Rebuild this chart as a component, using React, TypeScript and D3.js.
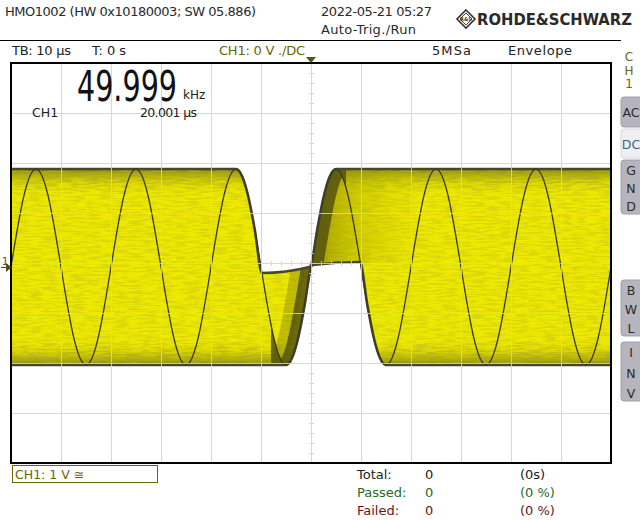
import React from 'react';
import * as d3 from 'd3';

const W = 640;
const H = 520;

// screen: 12 div x 10 µs, 8 div x 1 V
const timeRange: [number, number] = [-60, 60];
const voltRange: [number, number] = [-4, 4];
const timeGrid = [-50, -40, -30, -20, -10, 0, 10, 20, 30, 40, 50];
const voltGrid = [-3, -2, -1, 0, 1, 2, 3];

// CH1 live trace, read every 2.5 µs (V)
const traceTimes = d3.range(-60, 60.001, 2.5);
const traceVolts = [
  -0.08, 1.31, 1.88, 1.31, -0.08, -1.47, -2.04, -1.47,
  -0.08, 1.31, 1.88, 1.31, -0.08, -1.47, -2.04, -1.47,
  -0.08, 1.31, 1.88, 1.31, -0.08, -1.47, -2.04, -1.47,
  -0.08, 1.31, 1.88, 1.31, -0.08, -1.47, -2.04, -1.47,
  -0.08, 1.31, 1.88, 1.31, -0.08, -1.47, -2.04, -1.47,
  -0.08, 1.31, 1.88, 1.31, -0.08, -1.47, -2.04, -1.47,
  -0.08,
];

// envelope hull [µs, V]
const envUpper: [number, number][] = [
  [-60, 1.88], [-15, 1.88], [-13.75, 1.73], [-12.5, 1.31], [-11.25, 0.67],
  [-9.8, -0.2], [-0.3, -0.08], [0, -0.04], [1.25, 0.67], [2.5, 1.31],
  [3.75, 1.73], [5, 1.88], [60, 1.88],
];
const envLower: [number, number][] = [
  [-60, -2.04], [-5, -2.04], [-3.75, -1.89], [-2.5, -1.47], [-1.25, -0.83],
  [0, -0.08], [0.3, -0.04], [9.8, 0.02], [11.25, -0.83], [12.5, -1.47],
  [13.75, -1.89], [15, -2.04], [60, -2.04],
];

const sideButtons = [
  { label: ['A', 'C'], y0: 97, y1: 127, active: false, inline: true },
  { label: ['D', 'C'], y0: 129, y1: 158, active: true, inline: true },
  { label: ['G', 'N', 'D'], y0: 160, y1: 214, active: false, inline: false },
  { label: ['B', 'W', 'L'], y0: 280, y1: 336, active: false, inline: false },
  { label: ['I', 'N', 'V'], y0: 342, y1: 401, active: false, inline: false },
];

const stats = [
  { name: 'Total:', count: '0', extra: '(0s)', color: '#222222' },
  { name: 'Passed:', count: '0', extra: '(0 %)', color: '#1f6a1f' },
  { name: 'Failed:', count: '0', extra: '(0 %)', color: '#6a1414' },
];

const YELLOW = '#eee900';
const OLIVE = '#6b6600';
const FONT = '"DejaVu Sans", sans-serif';

const App: React.FC = () => {
  const x = d3.scaleLinear().domain(timeRange).range([11, 611]);
  const y = d3.scaleLinear().domain(voltRange).range([463, 63]);
  const [L, R] = x.range();
  const [B, T] = y.range();

  const tracePath = d3.line<number>()
    .x((_, i) => x(traceTimes[i]))
    .y(d => y(d))
    .curve(d3.curveNatural)(traceVolts) || '';

  const upperArea = d3.area<[number, number]>()
    .x(d => x(d[0])).y0(B).y1(d => y(d[1]))
    .curve(d3.curveMonotoneX);
  const lowerArea = d3.area<[number, number]>()
    .x(d => x(d[0])).y0(T).y1(d => y(d[1]))
    .curve(d3.curveMonotoneX);
  const edge = d3.line<[number, number]>()
    .x(d => x(d[0])).y(d => y(d[1]))
    .curve(d3.curveMonotoneX);

  const top = y(1.88);
  const bot = y(-2.04);
  const minorX = d3.range(-60, 60.001, 2);
  const minorY = d3.range(-4, 4.001, 0.2);

  return (
    <div style={{ position: 'fixed', left: 0, top: 0 }}>
      <svg width={W} height={H} style={{ display: 'block', background: '#fff' }} fontFamily={FONT}>
        <defs>
          <clipPath id="cu"><path d={upperArea(envUpper) || ''} /></clipPath>
          <clipPath id="cl"><path d={lowerArea(envLower) || ''} /></clipPath>
          <clipPath id="plot"><rect x={L} y={T} width={R - L} height={B - T} /></clipPath>
          <clipPath id="midUp"><rect x={x(0) - 1} y={T} width={x(7) - x(0) + 1} height={y(0) - T} /></clipPath>
          <clipPath id="midLow"><rect x={x(-8)} y={y(0)} width={x(0) - x(-8) + 1} height={B - y(0)} /></clipPath>
          <linearGradient id="topBand" x1="0" y1="0" x2="0" y2="1">
            <stop offset="0" stopColor="#4e4c14" stopOpacity={0.95} />
            <stop offset="0.25" stopColor="#7c7a06" stopOpacity={0.7} />
            <stop offset="0.6" stopColor="#aca800" stopOpacity={0.3} />
            <stop offset="1" stopColor="#c8c400" stopOpacity={0} />
          </linearGradient>
          <linearGradient id="botBand" x1="0" y1="1" x2="0" y2="0">
            <stop offset="0" stopColor="#4e4c14" stopOpacity={0.95} />
            <stop offset="0.25" stopColor="#7c7a06" stopOpacity={0.7} />
            <stop offset="0.6" stopColor="#aca800" stopOpacity={0.3} />
            <stop offset="1" stopColor="#c8c400" stopOpacity={0} />
          </linearGradient>
          <linearGradient id="midTint" x1="0" y1="0" x2="1" y2="0">
            <stop offset="0" stopColor="#7a7604" stopOpacity={0.7} />
            <stop offset="0.4" stopColor="#9a9600" stopOpacity={0.35} />
            <stop offset="1" stopColor="#b8b400" stopOpacity={0} />
          </linearGradient>
          <filter id="speckle" x="0" y="0" width="1" height="1">
            <feTurbulence type="fractalNoise" baseFrequency="0.07 0.55" numOctaves={2} seed={7} result="n" />
            <feColorMatrix in="n" type="matrix"
              values="0 0 0 0 0.42  0 0 0 0 0.41  0 0 0 0 0.02  0 0 0 4.5 -1.9" result="c" />
            <feComposite in="c" in2="SourceGraphic" operator="in" />
          </filter>
        </defs>

        {/* header */}
        <text x={5} y={16} fontSize={13} fill="#2a2a2a" textLength={251}>HMO1002 (HW 0x10180003; SW 05.886)</text>
        <text x={321} y={16} fontSize={13} fill="#2a2a2a" textLength={111}>2022-05-21 05:27</text>
        <text x={321} y={34} fontSize={13} fill="#2a2a2a" textLength={95}>Auto-Trig./Run</text>
        <g transform="translate(466,19)" stroke="#333" fill="none">
          <path d="M0,-9L9,0L0,9L-9,0Z" strokeWidth={1.6} />
          <path d="M0,-6L6,0L0,6L-6,0Z" strokeWidth={0.9} />
          <text x={0} y={2} fontSize={5} stroke="none" fill="#333" textAnchor="middle" fontWeight="bold">R&amp;S</text>
        </g>
        <text x={477} y={25} fontSize={15} fontWeight="bold" fill="#2a2a2a" textLength={155} lengthAdjust="spacingAndGlyphs">ROHDE&amp;SCHWARZ</text>
        <line x1={0} x2={621} y1={40.5} y2={40.5} stroke="#000" />

        <text x={12} y={55} fontSize={13} fill="#222" textLength={59}>TB: 10 µs</text>
        <text x={92} y={55} fontSize={13} fill="#222" textLength={34}>T: 0 s</text>
        <text x={219} y={55} fontSize={13} fill={OLIVE} textLength={86}>CH1: 0 V ./DC</text>
        <text x={432} y={55} fontSize={13} fill="#222" textLength={39}>5MSa</text>
        <text x={508} y={55} fontSize={13} fill="#222" textLength={64}>Envelope</text>
        {['C', 'H', '1'].map((c, i) => (
          <text key={c} x={629} y={61 + i * 13.5} fontSize={12} fill={OLIVE} textAnchor="middle">{c}</text>
        ))}

        {/* envelope */}
        <g clipPath="url(#plot)">
          <g clipPath="url(#cu)">
            <g clipPath="url(#cl)">
              <rect x={L} y={T} width={R - L} height={B - T} fill={YELLOW} />
              <rect x={L} y={T} width={R - L} height={B - T} fill="#000" opacity={0.28} filter="url(#speckle)" />
              <rect x={L} y={top - 1} width={R - L} height={26} fill="url(#topBand)" opacity={0.75} />
              <rect x={L} y={top - 1} width={R - L} height={26} fill="url(#topBand)" filter="url(#speckle)" />
              <rect x={L} y={bot - 25} width={R - L} height={26} fill="url(#botBand)" opacity={0.75} />
              <rect x={L} y={bot - 25} width={R - L} height={26} fill="url(#botBand)" filter="url(#speckle)" />
              <rect x={x(0)} y={top} width={x(22) - x(0)} height={y(0) - top} fill="url(#midTint)" />
              <g clipPath="url(#midUp)" fill="none">
                <path d={tracePath} transform="translate(6,0)" stroke="#55530e" strokeWidth={12} opacity={0.85} />
              </g>
              <g clipPath="url(#midLow)" fill="none">
                <path d={tracePath} transform="translate(-13,0)" stroke="#8e8a04" strokeWidth={14} opacity={0.45} />
                <path d={tracePath} transform="translate(-5,0)" stroke="#55530e" strokeWidth={10} opacity={0.85} />
              </g>
            </g>
          </g>
          <path d={edge(envUpper) || ''} fill="none" stroke="#47462c" strokeWidth={2.6} />
          <path d={edge(envLower) || ''} fill="none" stroke="#47462c" strokeWidth={2.6} />
          <path d={tracePath} fill="none" stroke="#3a3a26" strokeWidth={1.3} />
        </g>

        {/* grid */}
        <g stroke="#d2d2d2" opacity={0.85} shapeRendering="crispEdges">
          {timeGrid.map(t => (
            <line key={`gx${t}`} x1={x(t)} x2={x(t)} y1={T} y2={B} />
          ))}
          {voltGrid.map(v => (
            <line key={`gy${v}`} x1={L} x2={R} y1={y(v)} y2={y(v)} />
          ))}
          {minorX.map(t => (
            <line key={`mx${t}`} x1={x(t)} x2={x(t)} y1={y(0) - 2} y2={y(0) + 3} />
          ))}
          {minorY.map(v => (
            <line key={`my${v}`} x1={x(0) - 2} x2={x(0) + 3} y1={y(v)} y2={y(v)} />
          ))}
        </g>
        <rect x={L} y={T} width={R - L} height={B - T} fill="none" stroke="#000" strokeWidth={1.2} shapeRendering="crispEdges" />
        <line x1={L} x2={L} y1={T} y2={B} stroke="#000" strokeWidth={2} />

        {/* trigger & ground markers */}
        <path d={`M${x(0) - 5},57L${x(0) + 5},57L${x(0)},63Z`} fill="#55531c" />
        <g fill="#4e4c10" stroke="#4e4c10">
          <text x={2} y={265} fontSize={10} stroke="none">1</text>
          <line x1={1} x2={8} y1={267.5} y2={267.5} strokeWidth={1} />
          <path d="M6,263L11.5,267.5L6,272Z" stroke="none" />
        </g>

        {/* measurement */}
        <g transform="translate(77,101) scale(1,1.3)">
          <text x={0} y={0} fontSize={33} fill="#111"
            textLength={100} lengthAdjust="spacingAndGlyphs">49.999</text>
        </g>
        <text x={183} y={99} fontSize={12} fill="#222">kHz</text>
        <text x={32} y={117} fontSize={12.5} fill="#222">CH1</text>
        <text x={140} y={117} fontSize={12.5} fill="#222" textLength={57}>20.001 µs</text>

        {/* side buttons */}
        {sideButtons.map(b => (
          <g key={b.label.join('')}>
            <rect x={621} y={b.y0} width={22} height={b.y1 - b.y0} rx={3}
              fill={b.active ? '#efeff3' : '#b6b5be'} stroke={b.active ? '#d8d8de' : '#a2a1aa'} />
            {b.inline ? (
              <text x={631} y={(b.y0 + b.y1) / 2 + 5} fontSize={12.5} textAnchor="middle"
                fill={b.active ? '#3e6482' : '#2a2a2a'}>{b.label.join('')}</text>
            ) : (
              b.label.map((c, i) => (
                <text key={i} x={631} y={b.y0 + 15 + i * ((b.y1 - b.y0 - 18) / 2)} fontSize={12.5}
                  textAnchor="middle" fill="#2a2a2a">{c}</text>
              ))
            )}
          </g>
        ))}

        {/* footer */}
        <rect x={12.5} y={465.5} width={145} height={17} fill="#fff" stroke={OLIVE} />
        <text x={15} y={479} fontSize={12.5} fill={OLIVE}>CH1: 1 V ≅</text>
        {stats.map((s, i) => (
          <g key={s.name} fill={s.color} fontSize={13}>
            <text x={357} y={479 + i * 18}>{s.name}</text>
            <text x={425} y={479 + i * 18}>{s.count}</text>
            <text x={520} y={479 + i * 18}>{s.extra}</text>
          </g>
        ))}
      </svg>
    </div>
  );
};

export default App;
